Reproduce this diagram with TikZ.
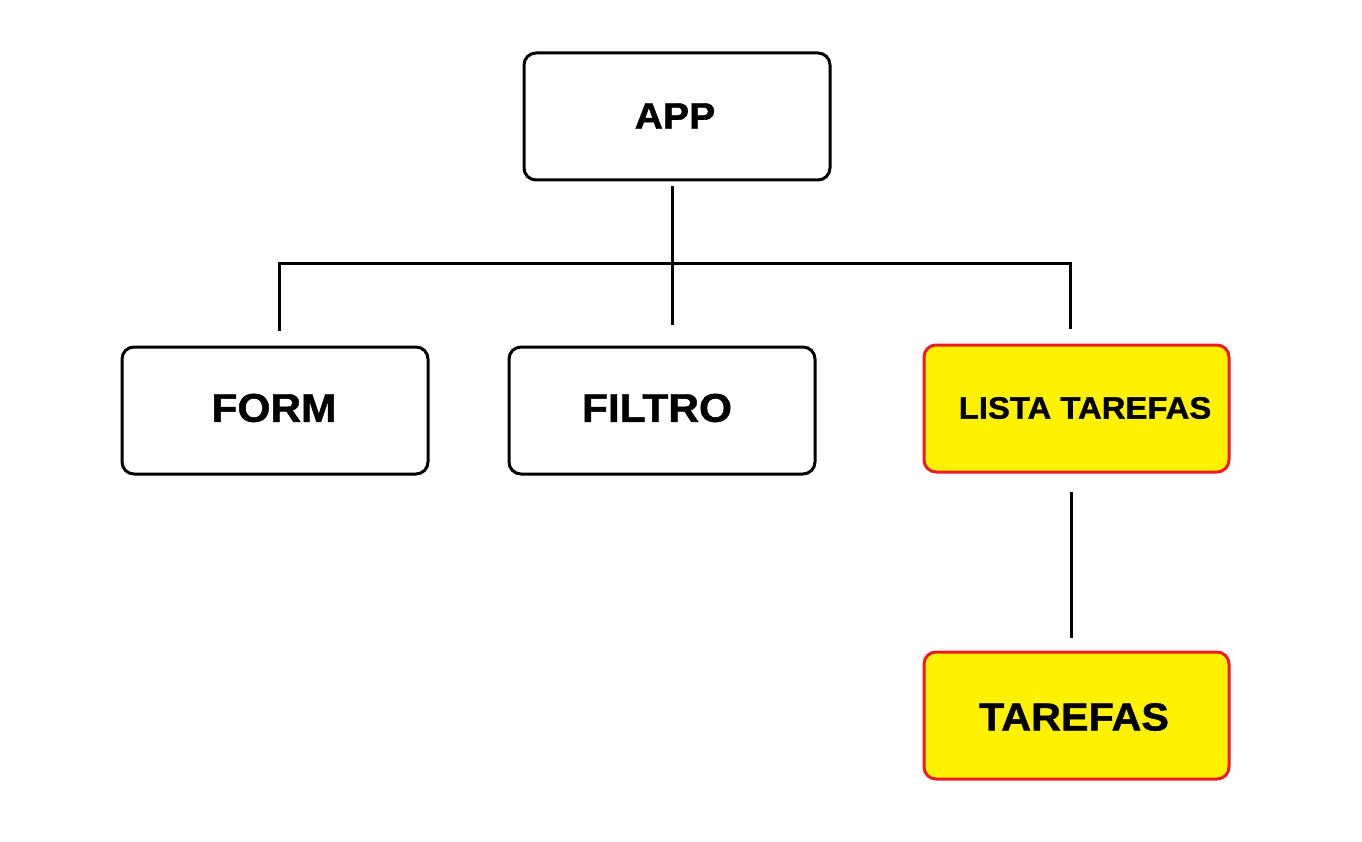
\documentclass[tikz,border=0pt]{standalone}
\usepackage{fontspec}
\setmainfont{Liberation Sans}
\newfontfamily\heavyfont{Liberation Sans Bold}[FakeBold=1.2,FakeStretch=1.06]
\definecolor{pyellow}{HTML}{FFF200}
\definecolor{pred}{HTML}{ED1C24}
\begin{document}
\begin{tikzpicture}[x=1pt,y=-1pt,
  box/.style={draw=black,line width=3pt,rounded corners=12pt,fill=white},
  hbox/.style={draw=pred,line width=3pt,rounded corners=12pt,fill=pyellow},
  lbl/.style={font=\heavyfont\fontsize{#1}{#1}\selectfont,anchor=center,inner sep=0pt},
  conn/.style={line width=3pt}]
\useasboundingbox (0,0) rectangle (1362,842);
% boxes
\draw[box] (524,53) rectangle (830,180);
\node[lbl=37] (app) at (675,116) {APP};
\draw[box] (122,347) rectangle (428,474);
\node[lbl=40] (form) at (274,408) {FORM};
\draw[box] (509,347) rectangle (815,474);
\node[lbl=40] (filtro) at (657,408) {FILTRO};
\draw[hbox] (924,345) rectangle (1229,472);
\node[lbl=31] (lista) at (1085,408) {LISTA TAREFAS};
\draw[hbox] (924,652) rectangle (1229,779);
\node[lbl=39] (tarefas) at (1074,717) {TAREFAS};
% connectors
\coordinate (appb) at (672,186);
\coordinate (jn) at (672,264);
\coordinate (jl) at (279,264);
\coordinate (jr) at (1070,264);
\coordinate (formt) at (279,331);
\coordinate (filtrot) at (672,325);
\coordinate (listat) at (1070,329);
\coordinate (listab) at (1071,492);
\coordinate (tarefast) at (1071,638);
\draw[conn] (appb) -- (jn);
\draw[conn] (formt) -- (jl) -- (jr) -- (listat);
\draw[conn] (jn) -- (filtrot);
\draw[conn] (listab) -- (tarefast);
\end{tikzpicture}
\end{document}
